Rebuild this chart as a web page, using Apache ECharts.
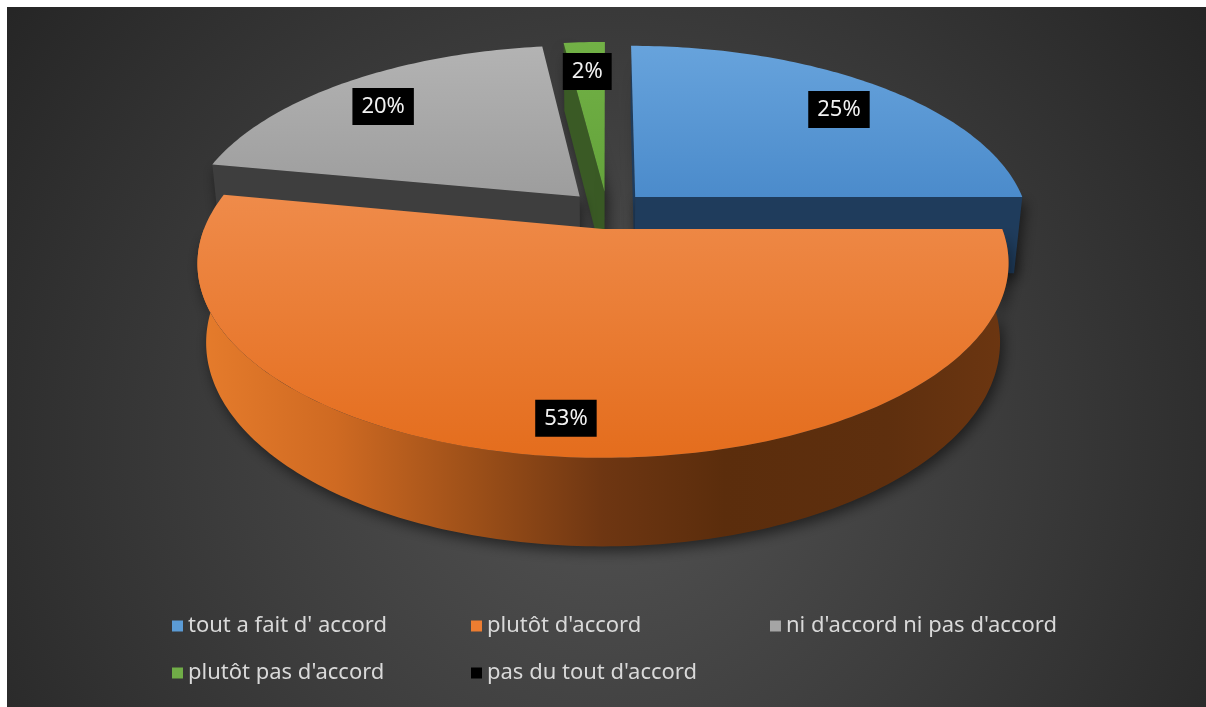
<!DOCTYPE html>
<html>
<head>
<meta charset="utf-8">
<script src="https://cdn.jsdelivr.net/npm/echarts@6/dist/echarts.min.js"></script>
<style>
  html, body { margin: 0; padding: 0; background: #282828; overflow: hidden; width: 100%; height: 100%; }
  #edgeLeft { position: fixed; left: 0; top: 0; width: 7px; height: 100%; background: #ffffff; }
  #edgeTop { position: fixed; left: 0; top: 0; width: 100%; height: 7px; background: #ffffff; }
  #chart { position: fixed; left: 7px; top: 7px; right: 0; bottom: 0; }
</style>
</head>
<body>
<div id="edgeLeft"></div>
<div id="edgeTop"></div>
<div id="chart"></div>
<script>
// Survey answers and their shares (percent)
const categories = [
  "tout a fait d' accord",
  "plutôt d'accord",
  "ni d'accord ni pas d'accord",
  "plutôt pas d'accord",
  "pas du tout d'accord"
];
const shares = [25, 53, 20, 2, 0];

// Office-style palette and 3D shading per slice
const palette = ['#5b9bd5', '#ed7d31', '#a5a5a5', '#70ad47', '#000000'];
const topShade = [
  ['#67a3dc', '#4b8bcb'],
  ['#ef8b4a', '#e46d1d'],
  ['#b3b3b3', '#9d9d9d'],
  ['#72b146', '#64a33b'],
  ['#111111', '#000000']
];
const wallShade = ['#1f3c5c', '#6a3410', '#3e3e3e', '#3a5a25', '#000000'];
const rimStops = [
  [0, '#e67c2c'], [0.17, '#cf6a22'], [0.35, '#9a4e18'], [0.5, '#6e3612'],
  [0.65, '#5b2d0c'], [0.85, '#5e2f0e'], [1, '#6c3611']
];

// Camera / solid parameters (radius units, screen px)
const view = {
  cx: 600, cy: 203, scale: 392,
  tilt: 27.6 * Math.PI / 180,
  dist: 5.09,
  depth: 0.226,
  explode: 0.103,
  labelRadius: 0.83,
  labelDrop: 7
};

const total = shares.reduce((a, b) => a + b, 0);
const starts = [];
shares.reduce((acc, v, i) => { starts[i] = acc; return acc + v; }, 0);

function angles(i) {
  const a0 = starts[i] / total * Math.PI * 2;
  const a1 = (starts[i] + shares[i]) / total * Math.PI * 2;
  return [a0, a1, (a0 + a1) / 2];
}

function project(X, Y, Z) {
  const ca = Math.cos(view.tilt), sa = Math.sin(view.tilt);
  const d = view.dist + Z * ca - Y * sa;
  const f = view.scale * view.dist / d;
  return [view.cx + X * f, view.cy - (Y * ca + Z * sa) * f];
}

// Paint order: farthest slice first
const rank = [];
shares.map((v, i) => {
  const m = angles(i)[2];
  return { i, z: (view.explode + 0.5) * Math.cos(m) };
}).sort((a, b) => b.z - a.z).forEach((o, k) => { rank[o.i] = k; });

function signedArea(pts) {
  let s = 0;
  for (let k = 0; k < pts.length; k++) {
    const p = pts[k], q = pts[(k + 1) % pts.length];
    s += p[0] * q[1] - q[0] * p[1];
  }
  return s;
}

function renderSlice(params, api) {
  const i = params.dataIndex;
  const v = api.value(0);
  if (!(v > 0)) return { type: 'group', children: [] };
  const [a0, a1, m] = angles(i);
  const ox = view.explode * Math.sin(m), oz = view.explode * Math.cos(m);
  const h = -view.depth;
  const rim = (t, y) => project(ox + Math.sin(t), y, oz + Math.cos(t));
  const apex = (y) => project(ox, y, oz);
  const base = rank[i] * 10;
  const children = [];
  const shadow = { shadowBlur: 14, shadowColor: 'rgba(0,0,0,0.55)', shadowOffsetX: 3, shadowOffsetY: 5 };

  // radial walls (only the ones facing the viewer)
  const w0 = [apex(0), rim(a0, 0), rim(a0, h), apex(h)];
  const w1 = [apex(0), rim(a1, 0), rim(a1, h), apex(h)];
  if (signedArea(w0) < 0) {
    children.push({ type: 'polygon', z2: base + 1, shape: { points: w0 },
      style: Object.assign({ fill: wallShade[i] }, shadow) });
  }
  if (signedArea(w1) > 0) {
    children.push({ type: 'polygon', z2: base + 1, shape: { points: w1 },
      style: Object.assign({ fill: wallShade[i] }, shadow) });
  }

  // curved outer wall on the near half, lit from the left
  const f0 = Math.max(a0, Math.PI / 2), f1 = Math.min(a1, Math.PI * 1.5);
  if (f1 > f0) {
    const n = Math.max(2, Math.ceil((f1 - f0) / (Math.PI / 180)));
    const upper = [], lower = [];
    for (let k = 0; k <= n; k++) {
      const t = f0 + (f1 - f0) * k / n;
      upper.push(rim(t, 0));
      lower.push(rim(t, h));
    }
    const pts = upper.concat(lower.reverse());
    children.push({ type: 'polygon', z2: base + 2, shape: { points: pts },
      style: Object.assign({
        fill: {
          type: 'linear', x: 0, y: 0, x2: 1, y2: 0,
          colorStops: rimStops.map(s => ({ offset: s[0], color: s[1] }))
        }
      }, shadow) });
  }

  // top face
  const n = Math.max(2, Math.ceil((a1 - a0) / (Math.PI / 180)));
  const topPts = [apex(0)];
  for (let k = 0; k <= n; k++) topPts.push(rim(a0 + (a1 - a0) * k / n, 0));
  children.push({ type: 'polygon', z2: base + 3, shape: { points: topPts },
    style: { fill: { type: 'linear', x: 0, y: 0, x2: 0, y2: 1,
      colorStops: [{ offset: 0, color: topShade[i][0] }, { offset: 1, color: topShade[i][1] }] } } });

  // percentage label
  const r = view.explode + view.labelRadius;
  const lp = project(r * Math.sin(m), 0, r * Math.cos(m));
  children.push({ type: 'text', z2: 200, x: lp[0], y: lp[1] + view.labelDrop,
    style: {
      text: Math.round(v / total * 100) + '%',
      fill: '#f2f2f2', fontSize: 22, fontFamily: 'Noto Sans',
      backgroundColor: '#000000', padding: [8, 9, 7, 9],
      align: 'center', verticalAlign: 'middle'
    } });
  return { type: 'group', children };
}

const chart = echarts.init(document.getElementById('chart'), null, { renderer: 'canvas' });
chart.setOption({
  animation: false,
  backgroundColor: {
    type: 'radial', x: 0.5, y: 0.62, r: 1.05,
    colorStops: [
      { offset: 0, color: '#535353' },
      { offset: 0.5, color: '#3d3d3d' },
      { offset: 1, color: '#262626' }
    ]
  },
  legend: {
    left: 165, top: 607, width: 900, padding: 0,
    icon: 'rect', itemWidth: 11, itemHeight: 11, itemGap: 23,
    selectedMode: false,
    textStyle: { color: '#d9d9d9', fontSize: 22, fontFamily: 'Noto Sans',
      width: 260, lineHeight: 24, overflow: 'none' },
    data: categories
  },
  series: [
    {
      type: 'custom',
      coordinateSystem: 'none',
      renderItem: renderSlice,
      data: shares.map(v => [v]),
      silent: true
    },
    {
      // carries the category colours for the legend
      type: 'pie',
      radius: [0, 0],
      silent: true,
      label: { show: false },
      labelLine: { show: false },
      data: categories.map((name, i) => ({ name, value: shares[i], itemStyle: { color: palette[i] } }))
    }
  ]
});
window.addEventListener('resize', () => chart.resize());
</script>
</body>
</html>
